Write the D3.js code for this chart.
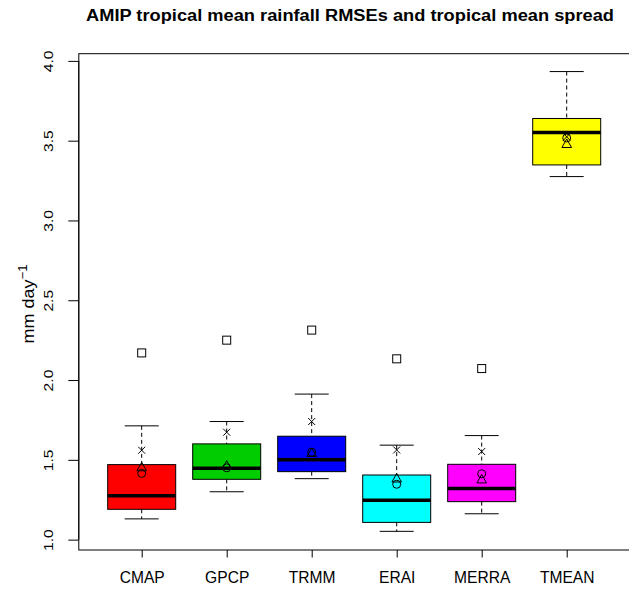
<!DOCTYPE html>
<html>
<head>
<meta charset="utf-8">
<script src="https://cdn.jsdelivr.net/npm/d3@7"></script>
<style>
  html, body { margin: 0; padding: 0; background: #fff; }
  svg { display: block; font-family: "Liberation Sans", Arial, Helvetica, sans-serif; }
</style>
</head>
<body>
<svg id="chart" width="629" height="590"></svg>
<script>
// ---- data ----
const categories   = ["CMAP", "GPCP", "TRMM", "ERAI", "MERRA", "TMEAN"];
const boxColors    = ["#FF0000", "#00CD00", "#0000FF", "#00FFFF", "#FF00FF", "#FFFF00"];
const lowerWhisker = [1.13, 1.30, 1.382, 1.052, 1.162, 3.275];
const q1           = [1.19, 1.378, 1.426, 1.108, 1.238, 3.348];
const medians      = [1.275, 1.447, 1.50, 1.247, 1.32, 3.551];
const q3           = [1.47, 1.60, 1.648, 1.405, 1.472, 3.639];
const upperWhisker = [1.713, 1.74, 1.912, 1.592, 1.652, 3.933];
const outliers     = [2.17, 2.25, 2.313, 2.133, 2.072, null];   // square markers
const crossVals    = [1.56, 1.673, 1.74, 1.562, 1.552, 3.524];  // x markers
const triangleVals = [1.45, 1.46, 1.54, 1.38, 1.374, 3.476];    // triangle markers
const circleVals   = [1.415, 1.45, 1.548, 1.347, 1.413, 3.517]; // circle markers
const yTicks       = [1.0, 1.5, 2.0, 2.5, 3.0, 3.5, 4.0];
const titleText    = "AMIP tropical mean rainfall RMSEs and tropical mean spread";

// ---- layout ----
const svg = d3.select("#chart");
const x = d3.scaleLinear().domain([0.26, 6.74]).range([78.8, 629.6]);
const y = d3.scaleLinear().domain([0.935, 4.045]).range([550, 53.7]);
const step = x(2) - x(1);
const boxW = step * 0.8;
const stapleW = boxW * 0.5;

// frame
svg.append("rect")
  .attr("x", x(0.26)).attr("y", y(4.045))
  .attr("width", x(6.74) - x(0.26)).attr("height", y(0.935) - y(4.045))
  .attr("fill", "none").attr("stroke", "#000").attr("stroke-width", 1);

// title
svg.append("text")
  .attr("x", 350).attr("y", 20.7)
  .attr("text-anchor", "middle")
  .attr("font-weight", "bold").attr("font-size", 17.4)
  .attr("textLength", 528).attr("lengthAdjust", "spacingAndGlyphs")
  .text(titleText);

// y axis (ticks + rotated labels)
const yAxis = d3.axisLeft(y).tickValues(yTicks).tickFormat(d3.format(".1f")).tickSizeOuter(0).tickSize(10.5).tickPadding(0);
const gy = svg.append("g").attr("transform", `translate(${x(0.26)},0)`).call(yAxis);
gy.select(".domain").attr("d", `M0,${y(1.0)}V${y(4.0)}`).attr("stroke", "#000");
gy.selectAll(".tick line").attr("stroke", "#000");
gy.selectAll(".tick text")
  .attr("x", null).attr("dy", null)
  .attr("text-anchor", "middle")
  .attr("font-size", 12.5).attr("fill", "#000")
  .attr("transform", `translate(-25.5,0) rotate(-90) scale(1.25,1)`);

// y label
const yl = svg.append("text")
  .attr("transform", `translate(33.5,304) rotate(-90) scale(1.06,1)`)
  .attr("text-anchor", "middle").attr("font-size", 17);
yl.append("tspan").text("mm day");
yl.append("tspan").attr("dy", -7).attr("font-size", 12.5).text("\u22121");

// x axis
const xAxis = d3.axisBottom(x).tickValues(d3.range(1, 7)).tickFormat(i => categories[i - 1]).tickSizeOuter(0).tickSize(7.5).tickPadding(14);
const gx = svg.append("g").attr("transform", `translate(0,${y(0.935)})`).call(xAxis);
gx.select(".domain").remove();
gx.selectAll(".tick line").attr("stroke", "#000");
gx.selectAll(".tick text").attr("font-size", 15.6).attr("fill", "#000");

// boxes
const idx = d3.range(categories.length);
const g = svg.append("g");
idx.forEach(i => {
  const cx = x(i + 1);
  // whiskers (dashed)
  g.append("line").attr("x1", cx).attr("x2", cx).attr("y1", y(upperWhisker[i])).attr("y2", y(q3[i]))
    .attr("stroke", "#000").attr("stroke-dasharray", "4,3");
  g.append("line").attr("x1", cx).attr("x2", cx).attr("y1", y(q1[i])).attr("y2", y(lowerWhisker[i]))
    .attr("stroke", "#000").attr("stroke-dasharray", "4,3");
  // staples
  [upperWhisker[i], lowerWhisker[i]].forEach(v => {
    g.append("line").attr("x1", cx - stapleW / 2).attr("x2", cx + stapleW / 2)
      .attr("y1", y(v)).attr("y2", y(v)).attr("stroke", "#000");
  });
  // box
  g.append("rect").attr("x", cx - boxW / 2).attr("y", y(q3[i]))
    .attr("width", boxW).attr("height", y(q1[i]) - y(q3[i]))
    .attr("fill", boxColors[i]).attr("stroke", "#000");
  // median
  g.append("line").attr("x1", cx - boxW / 2).attr("x2", cx + boxW / 2)
    .attr("y1", y(medians[i])).attr("y2", y(medians[i]))
    .attr("stroke", "#000").attr("stroke-width", 3.5);
});

// markers
const mk = svg.append("g").attr("fill", "none").attr("stroke", "#000").attr("stroke-width", 1);
idx.forEach(i => {
  const cx = x(i + 1);
  if (outliers[i] != null) {
    mk.append("rect").attr("x", cx - 4).attr("y", y(outliers[i]) - 4).attr("width", 8).attr("height", 8);
  }
  const cy = y(crossVals[i]);
  mk.append("path").attr("d", `M${cx - 3.5},${cy - 3.5}L${cx + 3.5},${cy + 3.5}M${cx - 3.5},${cy + 3.5}L${cx + 3.5},${cy - 3.5}`);
  const ty = y(triangleVals[i]);
  mk.append("path").attr("d", `M${cx},${ty - 5.5}L${cx + 4.8},${ty + 3}L${cx - 4.8},${ty + 3}Z`);
  mk.append("circle").attr("cx", cx).attr("cy", y(circleVals[i])).attr("r", 4);
});
</script>
</body>
</html>
